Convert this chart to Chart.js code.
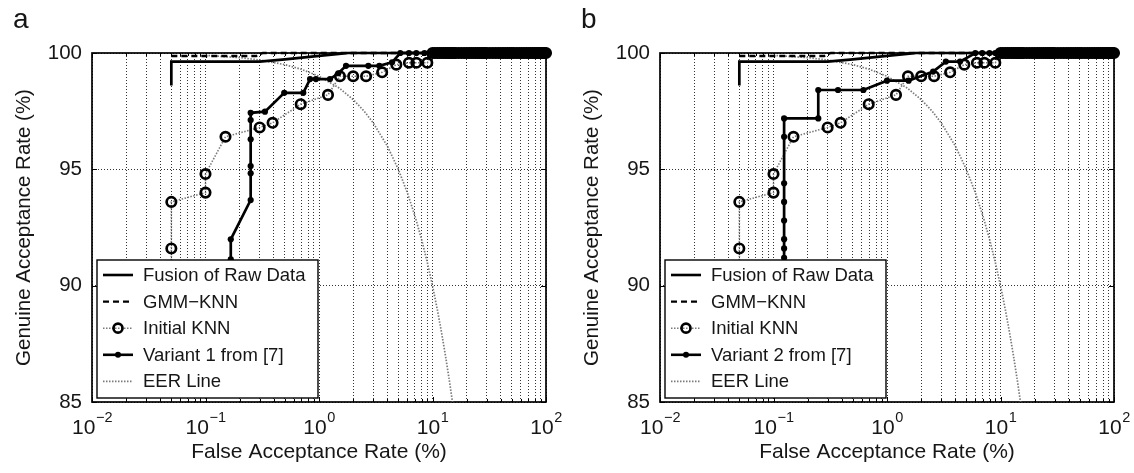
<!DOCTYPE html>
<html><head><meta charset="utf-8">
<script src="https://cdn.jsdelivr.net/npm/chart.js@4.4.1/dist/chart.umd.min.js"></script>
<style>
html,body{margin:0;padding:0;background:#fff;}
#wrap{display:flex;width:1134px;height:473px;}
canvas{display:block;}
</style></head><body>
<div id="wrap"><canvas id="ca" width="567" height="473"></canvas><canvas id="cb" width="567" height="473"></canvas></div>
<script>
// ---------- data ----------
const xTickVals = [0.01, 0.1, 1, 10, 100];
const xTickExps = ['\u22122', '\u22121', '0', '1', '2'];
const yTickVals = [85, 90, 95, 100];
const yTickLabels = ['85', '90', '95', '100'];

const fusionX = [0.05, 0.05, 0.3, 0.5, 1, 1.5, 1.8, 100];
const fusionY = [98.6, 99.63, 99.63, 99.73, 99.88, 99.96, 100, 100];

const gmmX = [0.05, 0.28, 0.32, 100];
const gmmY = [99.87, 99.87, 100, 100];

// dense run of ROC points sitting at 100 % between FAR 10 and 100
const topX = [
  10, 10.5, 11, 11.5, 12, 12.5, 13, 13.5, 14, 14.5,
  15, 15.5, 16, 17, 18, 19, 20, 21, 22, 23,
  24, 25, 26, 27, 28, 29, 30, 32, 34, 36,
  38, 40, 42, 44, 46, 48, 50, 52, 55, 58,
  61, 64, 67, 70, 73, 76, 79, 82, 85, 88,
  91, 94, 97, 100];
const topY = [
  100, 100, 100, 100, 100, 100, 100, 100, 100, 100,
  100, 100, 100, 100, 100, 100, 100, 100, 100, 100,
  100, 100, 100, 100, 100, 100, 100, 100, 100, 100,
  100, 100, 100, 100, 100, 100, 100, 100, 100, 100,
  100, 100, 100, 100, 100, 100, 100, 100, 100, 100,
  100, 100, 100, 100];

const knnX = [0.05, 0.05, 0.05, 0.1, 0.1, 0.15, 0.3, 0.39, 0.69, 1.2, 1.53, 2.0, 2.6, 3.6, 4.8, 6.2, 7.2, 9.0];
const knnY = [88, 91.6, 93.6, 94.0, 94.8, 96.4, 96.8, 97.0, 97.8, 98.2, 99.0, 99.0, 99.0, 99.17, 99.5, 99.58, 99.58, 99.58];

const v1X = [0.167, 0.167, 0.167, 0.25, 0.25, 0.25, 0.25, 0.25, 0.25, 0.334, 0.494, 0.727, 0.834, 0.94, 1.25, 1.48, 1.73, 2.72, 3.4, 4.4, 5.2, 6.2, 7.2, 8.5];
const v1Y = [88, 91.13, 91.99, 93.68, 94.83, 95.14, 96.29, 97.12, 97.43, 97.48, 98.29, 98.29, 98.88, 98.88, 98.88, 99.13, 99.45, 99.45, 99.45, 99.6, 100, 100, 100, 100];

const v2X = [0.124, 0.124, 0.124, 0.124, 0.124, 0.124, 0.124, 0.124, 0.124, 0.248, 0.248, 0.37, 0.62, 1.0, 1.55, 2.55, 3.3, 4.4, 6.0, 6.9, 8.0, 9.0];
const v2Y = [88, 91.2, 91.6, 92.0, 92.8, 93.6, 94.4, 96.4, 97.19, 97.19, 98.41, 98.41, 98.41, 98.81, 98.81, 99.2, 99.63, 99.63, 100, 100, 100, 100];

const eerX = [0.1, 0.2, 0.3, 0.5, 0.7, 1, 1.5, 2, 2.5, 3, 4, 5, 6, 7, 8, 9, 10, 11, 12, 13, 14, 15];
const eerY = [99.9, 99.8, 99.7, 99.5, 99.3, 99, 98.5, 98, 97.5, 97, 96, 95, 94, 93, 92, 91, 90, 89, 88, 87, 86, 85];

const legendLabelsA = ['Fusion of Raw Data', 'GMM\u2212KNN', 'Initial KNN', 'Variant 1 from [7]', 'EER Line'];
const legendLabelsB = ['Fusion of Raw Data', 'GMM\u2212KNN', 'Initial KNN', 'Variant 2 from [7]', 'EER Line'];
const xTitle = 'False Acceptance Rate (%)';
const yTitle = 'Genuine Acceptance Rate (%)';

// ---------- helpers ----------
const FONT = "'Liberation Sans', Arial, Helvetica, sans-serif";
const pts = (xs, ys) => xs.map((x, i) => ({x: x, y: ys[i]}));
const xGrid = [];
for (let e = -2; e < 2; e++) for (let m = 1; m < 10; m++) xGrid.push(m * Math.pow(10, e));
xGrid.push(100);
const isMajor = v => Math.abs(Math.log10(v) - Math.round(Math.log10(v))) < 1e-9;

const GRAY = '#7a7a7a';
const TXT = '#161616';

const panelPlugin = {
  id: 'panel',
  beforeDatasetsDraw(chart) {
    const {ctx, chartArea: a, scales: {x, y}} = chart;
    ctx.save();
    ctx.strokeStyle = '#000';
    ctx.lineWidth = 1;
    ctx.beginPath();
    xGrid.forEach(v => {
      const px = Math.round(x.getPixelForValue(v)) + 0.5;
      const len = isMajor(v) ? 5 : 3;
      ctx.moveTo(px, a.bottom); ctx.lineTo(px, a.bottom - len);
      ctx.moveTo(px, a.top); ctx.lineTo(px, a.top + len);
    });
    yTickVals.forEach(v => {
      const py = Math.round(y.getPixelForValue(v)) + 0.5;
      ctx.moveTo(a.left, py); ctx.lineTo(a.left + 5, py);
      ctx.moveTo(a.right, py); ctx.lineTo(a.right - 5, py);
    });
    ctx.stroke();
    ctx.lineWidth = 1.7;
    ctx.strokeRect(a.left, a.top, a.right - a.left, a.bottom - a.top);
    ctx.restore();
  },
  afterDatasetsDraw(chart, args, opts) {
    const {ctx, chartArea: a} = chart;
    const bx = a.left + 5, bw = 221, bh = 138, by = a.bottom - 4 - bh;
    ctx.save();
    ctx.fillStyle = '#fff';
    ctx.fillRect(bx, by, bw, bh);
    ctx.strokeStyle = '#000';
    ctx.lineWidth = 1.4;
    ctx.strokeRect(bx, by, bw, bh);
    const x0 = a.left + 11, x1 = a.left + 41, xm = (x0 + x1) / 2;
    opts.labels.forEach((lab, i) => {
      const yy = by + 15 + i * 26.6;
      ctx.save();
      ctx.beginPath();
      if (i === 0 || i === 3) { ctx.strokeStyle = '#000'; ctx.lineWidth = 2.6; ctx.setLineDash([]); }
      else if (i === 1) { ctx.strokeStyle = '#000'; ctx.lineWidth = 2.3; ctx.setLineDash([6, 4]); }
      else { ctx.strokeStyle = GRAY; ctx.lineWidth = 1.6; ctx.setLineDash([1.5, 1.5]); }
      ctx.moveTo(x0, yy); ctx.lineTo(x1, yy); ctx.stroke();
      ctx.setLineDash([]);
      if (i === 2) {
        ctx.beginPath(); ctx.strokeStyle = '#000'; ctx.lineWidth = 2.7;
        ctx.arc(xm, yy, 4.5, 0, Math.PI * 2); ctx.stroke();
      }
      if (i === 3) {
        ctx.beginPath(); ctx.fillStyle = '#000';
        ctx.arc(xm, yy, 3, 0, Math.PI * 2); ctx.fill();
      }
      ctx.restore();
      ctx.fillStyle = TXT;
      ctx.font = '18.5px ' + FONT;
      ctx.textAlign = 'left';
      ctx.textBaseline = 'middle';
      ctx.fillText(lab, a.left + 51, yy + 1);
    });
    ctx.restore();
  },
  afterDraw(chart, args, opts) {
    const {ctx, chartArea: a, scales: {x, y}} = chart;
    ctx.save();
    ctx.fillStyle = TXT;
    // y tick labels
    ctx.font = '20.5px ' + FONT;
    ctx.textAlign = 'right';
    ctx.textBaseline = 'middle';
    yTickVals.forEach((v, i) => ctx.fillText(yTickLabels[i], a.left - 10, y.getPixelForValue(v)));
    // x tick labels with superscript exponents
    ctx.textBaseline = 'alphabetic';
    ctx.textAlign = 'left';
    xTickVals.forEach((v, i) => {
      const px = x.getPixelForValue(v);
      ctx.font = '21px ' + FONT;
      const w1 = ctx.measureText('10').width;
      ctx.font = '14.5px ' + FONT;
      const w2 = ctx.measureText(xTickExps[i]).width;
      const sx = px - (w1 + w2) / 2;
      ctx.font = '21px ' + FONT;
      ctx.fillText('10', sx, a.bottom + 31.5);
      ctx.font = '14.5px ' + FONT;
      ctx.fillText(xTickExps[i], sx + w1 + 0.5, a.bottom + 20);
    });
    // axis titles
    ctx.font = '21px ' + FONT;
    ctx.textAlign = 'center';
    ctx.fillText(xTitle, (a.left + a.right) / 2, a.bottom + 56);
    ctx.save();
    ctx.translate(a.left - 62, (a.top + a.bottom) / 2);
    ctx.rotate(-Math.PI / 2);
    ctx.font = '20.5px ' + FONT;
    ctx.fillText(yTitle, 0, 0);
    ctx.restore();
    // panel letter
    ctx.font = '28px ' + FONT;
    ctx.textAlign = 'left';
    ctx.fillText(opts.letter, a.left - 79, 28);
    ctx.restore();
  }
};

function makePanel(id, letter, labels, vX, vY, padLeft, padRight) {
  return new Chart(document.getElementById(id), {
    type: 'scatter',
    plugins: [panelPlugin],
    data: {
      datasets: [
        {label: 'Fusion', data: pts(fusionX, fusionY), showLine: true, borderColor: '#000', borderWidth: 2.7, pointRadius: 0, order: 1, clip: 10, tension: 0},
        {label: 'GMM', data: pts(gmmX, gmmY), showLine: true, borderColor: '#000', borderWidth: 2.3, borderDash: [6, 4], pointRadius: 0, order: 2, clip: 10, tension: 0},
        {label: 'Variant', data: pts(vX.concat(topX), vY.concat(topY)), showLine: true, borderColor: '#000', borderWidth: 2.7, pointRadius: 3.1, pointBackgroundColor: '#000', pointBorderColor: '#000', pointBorderWidth: 0, order: 3, clip: 10, tension: 0},
        {label: 'KNN', data: pts(knnX.concat(topX), knnY.concat(topY)), showLine: true, borderColor: GRAY, borderWidth: 1.6, borderDash: [1.5, 1.5], pointRadius: 4.7, pointBorderWidth: 2.7, pointBorderColor: '#000', pointBackgroundColor: 'rgba(0,0,0,0)', order: 4, clip: 10, tension: 0},
        {label: 'EER', data: pts(eerX, eerY), showLine: true, borderColor: GRAY, borderWidth: 1.7, borderDash: [1.5, 1.5], pointRadius: 0, order: 5, clip: 10, tension: 0}
      ]
    },
    options: {
      responsive: false,
      animation: false,
      devicePixelRatio: 1,
      events: [],
      layout: {padding: {left: padLeft, right: padRight, top: 53, bottom: 71}},
      plugins: {
        legend: {display: false},
        tooltip: {enabled: false},
        panel: {letter: letter, labels: labels}
      },
      scales: {
        x: {
          type: 'logarithmic', min: 0.01, max: 100,
          afterBuildTicks: s => { s.ticks = xGrid.map(v => ({value: v})); },
          afterFit: s => { s.height = 0; },
          ticks: {display: false},
          grid: {color: 'rgba(0,0,0,0.8)', lineWidth: 1, drawTicks: false},
          border: {display: false, dash: [1, 2]}
        },
        y: {
          type: 'linear', min: 85, max: 100,
          ticks: {display: false, stepSize: 5},
          afterFit: s => { s.width = 0; },
          grid: {color: 'rgba(0,0,0,0.8)', lineWidth: 1, drawTicks: false},
          border: {display: false, dash: [1, 2]}
        }
      }
    }
  });
}

makePanel('ca', 'a', legendLabelsA, v1X, v1Y, 92, 21);
makePanel('cb', 'b', legendLabelsB, v2X, v2Y, 93, 20);
</script>
</body></html>
